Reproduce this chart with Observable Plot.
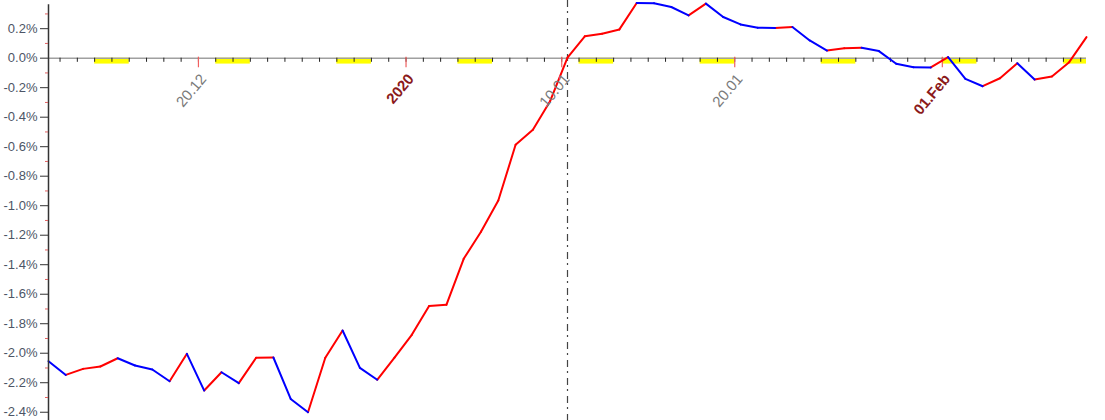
<!DOCTYPE html>
<html>
<head>
<meta charset="utf-8">
<script src="https://cdn.jsdelivr.net/npm/d3@7"></script>
<script src="https://cdn.jsdelivr.net/npm/@observablehq/plot@0.6"></script>
<style>
  html, body { margin: 0; padding: 0; background: #fff; }
  #chart svg { display: block; }
</style>
</head>
<body>
<div id="chart"></div>
<script>
// ---- data ----
const firstDay = "2019-12-11";
const lastDay = "2020-02-09";
// daily values in percent (one per calendar day, first to last)
const values = [
  -2.054, -2.147, -2.106, -2.090, -2.034, -2.083, -2.110, -2.190, -2.004, -2.253,
  -2.129, -2.203, -2.031, -2.029, -2.310, -2.400, -2.031, -1.846, -2.099, -2.180,
  -2.030, -1.875, -1.680, -1.672, -1.360, -1.176, -0.965, -0.587, -0.485, -0.290,
   0.004,  0.148,  0.166,  0.195,  0.374,  0.372,  0.347,  0.290,  0.370,  0.279,
   0.229,  0.207,  0.205,  0.211,  0.120,  0.052,  0.068,  0.070,  0.048, -0.038,
  -0.061, -0.063,  0.007, -0.140, -0.190, -0.136, -0.034, -0.145, -0.124, -0.027,
   0.143
];
const markerDay = "2020-01-10";
const xTickDates = ["2019-12-20", "2020-01-01", "2020-01-10", "2020-01-20", "2020-02-01"];
const xTickLabels = ["20.12", "2020", "10.01", "20.01", "01.Feb"];
const xTickStrong = [false, true, false, false, true];
const yMajorTicks = [-2.4, -2.2, -2.0, -1.8, -1.6, -1.4, -1.2, -1.0, -0.8, -0.6, -0.4, -0.2, 0.0, 0.2];
const yMinorTicks = [-2.3, -2.1, -1.9, -1.7, -1.5, -1.3, -1.1, -0.9, -0.7, -0.5, -0.3, -0.1, 0.1, 0.3];
const yDomain = [-2.456, 0.391];

// ---- derived ----
const HOUR_OFFSET = 8; // data points sit a bit after midnight of each day
const days = d3.utcDay.range(new Date(firstDay), d3.utcDay.offset(new Date(lastDay), 1));
const pointTime = d => d3.utcHour.offset(d, HOUR_OFFSET);
const points = days.map((d, i) => ({t: pointTime(d), v: values[i]}));
const segs = d3.pairs(points).map(([a, b]) => ({x1: a.t, y1: a.v, x2: b.t, y2: b.v, up: b.v >= a.v}));
const xDomain = [points[0].t, points[points.length - 1].t];
const saturdays = d3.utcSaturday.range(d3.utcDay.offset(xDomain[0], -2), xDomain[1]);
const dayTicks = d3.utcDay.range(xDomain[0], xDomain[1]);
const labelTicks = xTickDates.map((s, i) => ({t: new Date(s), label: xTickLabels[i], strong: xTickStrong[i]}));
const fmtY = d => d.toFixed(1) + "%";

const chart = Plot.plot({
  width: 1105,
  height: 420,
  marginLeft: 48,
  marginRight: 19,
  marginTop: 0,
  marginBottom: 0,
  style: {background: "#fff", fontFamily: "Arial, 'Liberation Sans', sans-serif"},
  x: {type: "utc", domain: xDomain, axis: null},
  y: {domain: yDomain, axis: null},
  marks: [
    // weekend bands
    Plot.rect(saturdays, {x1: d => d, x2: d => d3.utcDay.offset(d, 2), y1: 0, y2: -0.04, fill: "#ffff00", clip: true}),
    // zero line
    Plot.ruleY([0], {stroke: "#a0a0a0", strokeWidth: 1.5}),
    // daily ticks
    Plot.ruleX(dayTicks, {x: d => d, y1: 0, y2: -0.028, stroke: "#222", strokeWidth: 1}),
    // labelled ticks
    Plot.ruleX(labelTicks, {x: "t", y1: 0.007, y2: -0.065, stroke: "#f06060", strokeWidth: 1.2}),
    // marker line
    Plot.ruleX([pointTime(new Date(markerDay))], {x: d => d, stroke: "#444", strokeWidth: 1.2, strokeDasharray: "7,4,2,5"}),
    // curve: red rising, blue falling
    Plot.link(segs.filter(d => d.up), {x1: "x1", y1: "y1", x2: "x2", y2: "y2", stroke: "#ff0000", strokeWidth: 2, strokeLinecap: "round"}),
    Plot.link(segs.filter(d => !d.up), {x1: "x1", y1: "y1", x2: "x2", y2: "y2", stroke: "#0000ff", strokeWidth: 2, strokeLinecap: "round"}),
    // y axis line
    Plot.ruleX([xDomain[0]], {x: d => d, y1: yDomain[0], y2: 0.362, stroke: "#333", strokeWidth: 1.5}),
    // y ticks
    Plot.axisY(yMinorTicks, {anchor: "left", tickSize: 3, tickFormat: () => "", stroke: "#e06060", label: null}),
    Plot.axisY(yMajorTicks, {anchor: "left", tickSize: 8, tickPadding: 3, tickFormat: fmtY, stroke: "#333", fill: "#4d5566", fontSize: 13, label: null}),
    // x labels
    Plot.text(labelTicks.filter(d => !d.strong), {x: "t", y: 0, text: "label", dx: 5, dy: 18, rotate: -50, textAnchor: "end", fill: "#7a7a7a", fontSize: 15}),
    Plot.text(labelTicks.filter(d => d.strong), {x: "t", y: 0, text: "label", dx: 5, dy: 18, rotate: -50, textAnchor: "end", fill: "#8b1a1a", fontSize: 15, fontWeight: "bold"})
  ]
});
document.getElementById("chart").appendChild(chart);
</script>
</body>
</html>
